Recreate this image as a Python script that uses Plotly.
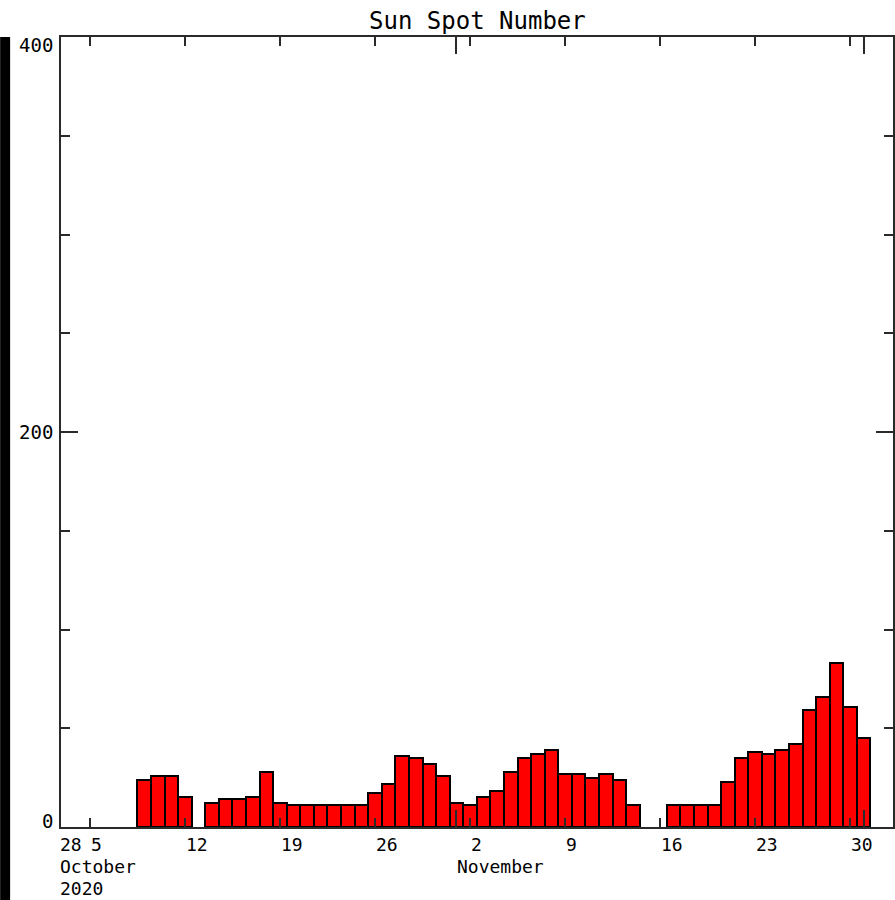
import datetime as dt
import plotly.graph_objects as go

# ---- data ----
dates = ["2020-10-09", "2020-10-10", "2020-10-11", "2020-10-12",
         "2020-10-14", "2020-10-15", "2020-10-16", "2020-10-17", "2020-10-18",
         "2020-10-19", "2020-10-20", "2020-10-21", "2020-10-22", "2020-10-23",
         "2020-10-24", "2020-10-25", "2020-10-26", "2020-10-27", "2020-10-28",
         "2020-10-29", "2020-10-30", "2020-10-31", "2020-11-01", "2020-11-02",
         "2020-11-03", "2020-11-04", "2020-11-05", "2020-11-06", "2020-11-07",
         "2020-11-08", "2020-11-09", "2020-11-10", "2020-11-11", "2020-11-12",
         "2020-11-13", "2020-11-14",
         "2020-11-17", "2020-11-18", "2020-11-19", "2020-11-20", "2020-11-21",
         "2020-11-22", "2020-11-23", "2020-11-24", "2020-11-25", "2020-11-26",
         "2020-11-27", "2020-11-28", "2020-11-29", "2020-11-30", "2020-12-01"]
sunspots = [24, 26, 26, 15,
            12, 14, 14, 15, 28,
            12, 11, 11, 11, 11,
            11, 11, 17, 22, 36,
            35, 32, 26, 12, 11,
            15, 18, 28, 35, 37,
            39, 27, 27, 25, 27,
            24, 11,
            11, 11, 11, 11, 23,
            35, 38, 37, 39, 42,
            59, 66, 83, 61, 45]

week_ticks = ["2020-10-05", "2020-10-12", "2020-10-19", "2020-10-26", "2020-11-02",
              "2020-11-09", "2020-11-16", "2020-11-23", "2020-11-30"]
week_labels = ["5", "12", "19", "26", "2", "9", "16", "23", "30"]
month_ticks = ["2020-11-01", "2020-12-01"]
month_labels = ["November", ""]
first_labels = ["28", "October", "2020"]
y_ticks = [0, 200, 400]
y_labels = ["0", "200", "400"]
title = "Sun Spot Number"

FONT = "DejaVu Sans Mono"
AX = "#2a2a2a"

fig = go.Figure()
fig.add_trace(go.Bar(
    x=dates, y=sunspots, width=86400000,
    marker=dict(color="#ff0000", line=dict(color="#000000", width=2)),
    showlegend=False, hoverinfo="skip"))

ref = dt.datetime(2020, 10, 5)
x0 = ref - dt.timedelta(days=2.131)
x1 = ref + dt.timedelta(days=59.16)

fig.update_layout(
    width=895, height=900,
    margin=dict(l=61, r=0, t=37, b=73),
    paper_bgcolor="white", plot_bgcolor="white",
    bargap=0,
    xaxis=dict(type="date", range=[x0, x1], showgrid=False, zeroline=False,
               showline=True, linecolor=AX, linewidth=2, mirror="ticks",
               tickmode="array", tickvals=month_ticks, ticktext=["", ""],
               showticklabels=False, ticks="inside", ticklen=17, tickwidth=2,
               tickcolor=AX,
               minor=dict(tickmode="array", tickvals=week_ticks, ticks="inside",
                          ticklen=9, tickwidth=2, tickcolor=AX, showgrid=False)),
    yaxis=dict(range=[0, 400], showgrid=False, zeroline=False,
               showline=True, linecolor=AX, linewidth=2, mirror="ticks",
               tickmode="array", tickvals=y_ticks, showticklabels=False,
               ticks="inside", ticklen=17, tickwidth=2, tickcolor=AX,
               minor=dict(dtick=50, tick0=0, ticks="inside", ticklen=9,
                          tickwidth=2, tickcolor=AX, showgrid=False)),
)

anns = []
fnt = dict(family=FONT, size=18, color="black")
# week labels, left-aligned at tick
for t, lab in zip(week_ticks, week_labels):
    anns.append(dict(x=t, y=0, xref="x", yref="paper", text=lab, showarrow=False,
                     xanchor="left", yanchor="middle", yshift=-17, xshift=-1, font=fnt))
for t, lab in zip(month_ticks, month_labels):
    if lab:
        anns.append(dict(x=t, y=0, xref="x", yref="paper", text=lab, showarrow=False,
                         xanchor="left", yanchor="middle", yshift=-39, xshift=-1, font=fnt))
for lab, ys in zip(first_labels, [-17, -39, -61]):
    anns.append(dict(x=0, y=0, xref="paper", yref="paper", text=lab, showarrow=False,
                     xanchor="left", yanchor="middle", yshift=ys, xshift=-3, font=fnt))
yfnt = dict(family=FONT, size=19, color="black")
for v, lab, ys in zip(y_ticks, y_labels, [6, 0, -8]):
    anns.append(dict(x=0, y=v, xref="paper", yref="y", text=lab, showarrow=False,
                     xanchor="right", yanchor="middle", xshift=-6, yshift=ys, font=yfnt))
anns.append(dict(x=0.5, y=1, xref="paper", yref="paper", text=title, showarrow=False,
                 xanchor="center", yanchor="middle", yshift=16,
                 font=dict(family=FONT, size=24, color="black")))
fig.update_layout(annotations=anns)

# black strip on the left edge
fig.add_shape(type="rect", xref="paper", yref="paper",
              x0=-61 / 834, x1=-51 / 834, y0=-73 / 790, y1=1,
              line=dict(width=0), fillcolor="black")

fig.write_html("out.html")
